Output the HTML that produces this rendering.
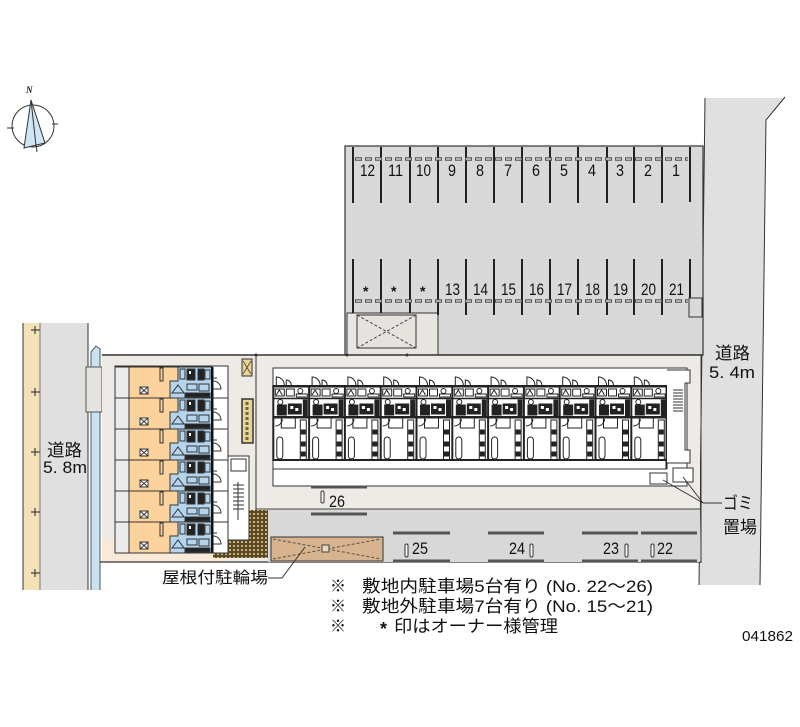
<!DOCTYPE html>
<html><head><meta charset="utf-8">
<style>
html,body{margin:0;padding:0;background:#fff;}
svg{display:block;}
text{font-family:"Liberation Sans","Noto Sans CJK JP",sans-serif;fill:#111;}
</style></head>
<body>
<svg width="800" height="727" viewBox="0 0 800 727" xmlns="http://www.w3.org/2000/svg">
<defs>
<pattern id="hatch" width="4" height="4" patternUnits="userSpaceOnUse"><rect width="4" height="4" fill="#5a4826"/><rect x="1" y="1" width="2" height="2" fill="#c9b27a"/></pattern>
<g id="ru" fill="none" stroke="#222" stroke-width="1">
 <rect x="-1" y="385" width="2" height="76" fill="#222" stroke="none"/>
 <path d="M3,385 V377 A8,8 0 0 1 11,385"/>
 <path d="M13,385 V380 A5,5 0 0 1 18,385"/>
 <rect x="0" y="385" width="36" height="2.5" fill="#222" stroke="none"/>
 <rect x="2" y="389" width="9" height="7"/>
 <path d="M3,395 l3,-5 l3,5"/>
 <rect x="13" y="389" width="8" height="7"/>
 <circle cx="27" cy="391" r="2.5"/>
 <rect x="23" y="394" width="11" height="3" fill="#fff"/>
 <line x1="0" y1="398.5" x2="36" y2="398.5" stroke-width="1.5"/>
 <circle cx="7" cy="402" r="2.5"/>
 <rect x="4" y="405" width="9" height="10" fill="#222"/>
 <rect x="15" y="404" width="13" height="10" fill="#222"/>
 <rect x="17" y="406" width="3" height="3" fill="#fff" stroke="none"/>
 <rect x="22" y="408" width="3" height="3" fill="#fff" stroke="none"/>
 <rect x="30" y="400" width="4" height="17" fill="#222"/>
 <rect x="0" y="416" width="36" height="2.5" fill="#222" stroke="none"/>
 <path d="M2,426 A7,7 0 0 0 9,419"/>
 <rect x="8" y="418" width="14" height="10"/>
 <rect x="3.5" y="437" width="6" height="22" rx="3"/>
 <rect x="27" y="420" width="6" height="40"/>
 <rect x="28" y="430" width="4" height="4" fill="#222"/>
 <rect x="28" y="442" width="4" height="4" fill="#222"/>
 <rect x="28" y="452" width="4" height="4" fill="#222"/>
 <rect x="0" y="459" width="36" height="2" fill="#222" stroke="none"/>
</g>
<g id="lu" stroke="#333" stroke-width="1">
 <rect x="115" y="0" width="14" height="31" fill="#ebebeb"/>
 <path d="M129,0 H178 V14 H170 V31 H129 Z" fill="#fcd39c"/>
 <path d="M178,0 H212 V31 H170 V14 H178 Z" fill="#b5d5ef"/>
 <rect x="160" y="1" width="3" height="13" fill="none"/>
 <rect x="140" y="20" width="8" height="7" fill="#fff"/>
 <path d="M140,20 l8,7 M148,20 l-8,7" fill="none"/>
 <rect x="180" y="2" width="5" height="10" fill="none"/>
 <rect x="187" y="2" width="8" height="11" fill="#222"/>
 <rect x="189" y="4" width="2" height="3" fill="#fff" stroke="none"/>
 <rect x="198" y="2" width="6" height="11" fill="#222"/>
 <rect x="205" y="3" width="5" height="9" fill="none"/>
 <path d="M172,26 l6,-8 l6,8 Z" fill="none"/>
 <rect x="187" y="17" width="10" height="6" fill="none"/>
 <rect x="199" y="17" width="10" height="7" fill="none"/>
 <rect x="185" y="26" width="25" height="4" fill="#222"/>
 <rect x="211" y="0" width="2.5" height="31" fill="#111" stroke="none"/>
 <path d="M213,22 h8 a8,8 0 0 0 -8,-8" fill="none"/>
 <path d="M213,11 h4" fill="none"/>
 <line x1="115" y1="31" x2="228" y2="31"/>
</g>
</defs>

<rect width="800" height="727" fill="#fff"/>

<!-- compass -->
<circle cx="33" cy="126" r="21" fill="none" stroke="#333" stroke-width="1"/>
<polygon points="31,100 24,148 45,143" fill="#cfe6f5" stroke="#333" stroke-width="1"/>
<line x1="31" y1="100" x2="36" y2="146" stroke="#333"/>
<line x1="7" y1="128" x2="14" y2="128" stroke="#333"/>
<line x1="52" y1="124" x2="58" y2="124" stroke="#333"/>
<line x1="36" y1="144" x2="37" y2="152" stroke="#333"/>
<text x="26" y="93" font-size="9" font-style="italic" font-weight="bold" style="font-family:'Liberation Serif',serif">N</text>

<!-- right road -->
<polygon points="705,98 785,98 766,120 760,585 699,585" fill="#e0e0e0"/>
<polyline points="705,98 699,585" fill="none" stroke="#333"/>
<polyline points="785,97 766,120 760,585" fill="none" stroke="#333"/>

<!-- top parking -->
<rect x="345" y="146" width="358" height="209" fill="#d9d9d9" stroke="#333" stroke-width="1.2"/>
<rect x="347" y="313" width="91" height="42" fill="#e9e6e2" stroke="#333"/>
<rect x="357" y="315" width="59" height="33" fill="#e6e3df" stroke="#333"/>
<path d="M357,315 L416,348 M416,315 L357,348" stroke="#444" stroke-dasharray="3,2"/>
<g stroke="#222" stroke-width="2">
<line x1="353" y1="147" x2="353" y2="203"/><line x1="381" y1="147" x2="381" y2="203"/><line x1="410" y1="147" x2="410" y2="203"/><line x1="438" y1="147" x2="438" y2="203"/><line x1="466" y1="147" x2="466" y2="203"/><line x1="494" y1="147" x2="494" y2="203"/><line x1="522" y1="147" x2="522" y2="203"/><line x1="550" y1="147" x2="550" y2="203"/><line x1="578" y1="147" x2="578" y2="203"/><line x1="607" y1="147" x2="607" y2="203"/><line x1="634" y1="147" x2="634" y2="203"/><line x1="662" y1="147" x2="662" y2="203"/><line x1="690" y1="147" x2="690" y2="202"/>
<line x1="353" y1="259" x2="353" y2="313"/><line x1="381" y1="259" x2="381" y2="313"/><line x1="410" y1="259" x2="410" y2="313"/><line x1="438" y1="259" x2="438" y2="315"/><line x1="466" y1="259" x2="466" y2="315"/><line x1="494" y1="259" x2="494" y2="315"/><line x1="522" y1="259" x2="522" y2="315"/><line x1="550" y1="259" x2="550" y2="315"/><line x1="578" y1="259" x2="578" y2="315"/><line x1="607" y1="259" x2="607" y2="315"/><line x1="634" y1="259" x2="634" y2="315"/><line x1="662" y1="259" x2="662" y2="315"/><line x1="690" y1="259" x2="690" y2="298"/>
</g>
<line x1="355" y1="159" x2="688" y2="159" stroke="#555" stroke-width="3.5" stroke-dasharray="7,3"/>
<line x1="356" y1="159" x2="688" y2="159" stroke="#e4e4e4" stroke-width="1.2" stroke-dasharray="5,5"/>
<line x1="355" y1="301" x2="688" y2="301" stroke="#555" stroke-width="3.5" stroke-dasharray="7,3"/>
<line x1="356" y1="301" x2="688" y2="301" stroke="#e4e4e4" stroke-width="1.2" stroke-dasharray="5,5"/>
<rect x="689" y="298" width="13" height="19" fill="none" stroke="#333"/>
<g font-size="17">
<text x="360" y="176" textLength="15" lengthAdjust="spacingAndGlyphs">12</text>
<text x="388" y="176" textLength="15" lengthAdjust="spacingAndGlyphs">11</text>
<text x="416" y="176" textLength="15" lengthAdjust="spacingAndGlyphs">10</text>
<text x="448" y="176" textLength="8" lengthAdjust="spacingAndGlyphs">9</text>
<text x="476" y="176" textLength="8" lengthAdjust="spacingAndGlyphs">8</text>
<text x="504" y="176" textLength="8" lengthAdjust="spacingAndGlyphs">7</text>
<text x="532" y="176" textLength="8" lengthAdjust="spacingAndGlyphs">6</text>
<text x="560" y="176" textLength="8" lengthAdjust="spacingAndGlyphs">5</text>
<text x="588" y="176" textLength="8" lengthAdjust="spacingAndGlyphs">4</text>
<text x="616" y="176" textLength="8" lengthAdjust="spacingAndGlyphs">3</text>
<text x="644" y="176" textLength="8" lengthAdjust="spacingAndGlyphs">2</text>
<text x="672" y="176" textLength="8" lengthAdjust="spacingAndGlyphs">1</text>
<text x="363" y="296" font-size="14" font-weight="bold">*</text>
<text x="391" y="296" font-size="14" font-weight="bold">*</text>
<text x="420" y="296" font-size="14" font-weight="bold">*</text>
<text x="445" y="295" textLength="15" lengthAdjust="spacingAndGlyphs">13</text>
<text x="473" y="295" textLength="15" lengthAdjust="spacingAndGlyphs">14</text>
<text x="501" y="295" textLength="15" lengthAdjust="spacingAndGlyphs">15</text>
<text x="529" y="295" textLength="15" lengthAdjust="spacingAndGlyphs">16</text>
<text x="557" y="295" textLength="15" lengthAdjust="spacingAndGlyphs">17</text>
<text x="585" y="295" textLength="15" lengthAdjust="spacingAndGlyphs">18</text>
<text x="613" y="295" textLength="15" lengthAdjust="spacingAndGlyphs">19</text>
<text x="641" y="295" textLength="15" lengthAdjust="spacingAndGlyphs">20</text>
<text x="669" y="295" textLength="15" lengthAdjust="spacingAndGlyphs">21</text>
</g>

<!-- left road -->
<rect x="23" y="323" width="17" height="267" fill="#f3e2b5"/>
<rect x="40" y="323" width="48" height="267" fill="#e0e0e0"/>
<line x1="23" y1="323" x2="23" y2="590" stroke="#333"/>
<line x1="40" y1="323" x2="40" y2="590" stroke="#777"/>
<line x1="88" y1="323" x2="88" y2="590" stroke="#333"/>
<g stroke="#444" stroke-width="1.2" fill="none">
<path d="M31,330 h9 M35,326 v8"/><path d="M31,392 h9 M35,388 v8"/><path d="M31,452 h9 M35,448 v8"/><path d="M31,512 h9 M35,508 v8"/><path d="M31,573 h9 M35,569 v8"/>
</g>
<rect x="91" y="352" width="9" height="238" fill="#c8e4f4"/>
<path d="M91,352 L96,346 L100,349 L100,352" fill="#c8e4f4" stroke="#555"/>
<line x1="91" y1="352" x2="91" y2="590" stroke="#555"/>
<line x1="100" y1="352" x2="100" y2="590" stroke="#555"/>
<rect x="86" y="367" width="16" height="45" fill="#e6e4e1" stroke="#555"/>

<!-- site -->
<rect x="102" y="355" width="598" height="207" fill="#eeebe6"/>
<rect x="102" y="540" width="126" height="22" fill="#f8e9d8"/>
<line x1="102" y1="355" x2="703" y2="355" stroke="#333" stroke-width="1.5"/>
<line x1="701" y1="355" x2="701" y2="563" stroke="#333"/>
<line x1="256" y1="355" x2="256" y2="510" stroke="#333"/>
<line x1="100" y1="562" x2="701" y2="562" stroke="#333" stroke-width="1.2"/>
<circle cx="256" cy="355" r="1.5" fill="#333"/><circle cx="347" cy="355" r="1.5" fill="#333"/><circle cx="407" cy="355" r="1.5" fill="#333"/>

<!-- lower parking strip -->
<rect x="268" y="509" width="432" height="53" fill="#d8d8d8"/>
<line x1="256" y1="509" x2="701" y2="509" stroke="#444"/>
<rect x="248" y="510" width="20" height="48" fill="url(#hatch)"/>
<rect x="213" y="540" width="55" height="18" fill="url(#hatch)"/>

<!-- left building -->
<rect x="115" y="366" width="113" height="187" fill="#fff" stroke="#333"/>
<use href="#lu" transform="translate(0,367)"/>
<use href="#lu" transform="translate(0,398)"/>
<use href="#lu" transform="translate(0,429)"/>
<use href="#lu" transform="translate(0,460)"/>
<use href="#lu" transform="translate(0,491)"/>
<use href="#lu" transform="translate(0,522)"/>
<rect x="228" y="456" width="21" height="84" fill="#fff" stroke="#333"/>
<rect x="231" y="459" width="15" height="12" fill="none" stroke="#333"/>
<g stroke="#333"><line x1="233" y1="485" x2="244" y2="485"/><line x1="233" y1="489" x2="244" y2="489"/><line x1="233" y1="493" x2="244" y2="493"/><line x1="233" y1="497" x2="244" y2="497"/><line x1="233" y1="501" x2="244" y2="501"/><line x1="233" y1="505" x2="244" y2="505"/><line x1="233" y1="509" x2="244" y2="509"/><line x1="238" y1="482" x2="238" y2="520"/></g>
<rect x="242" y="359" width="10" height="17" fill="#e9d590" stroke="#333"/>
<path d="M243,361 l8,13 M251,361 l-8,13" stroke="#555" fill="none"/>
<rect x="242" y="399" width="11" height="44" fill="#e9d590" stroke="#333" stroke-width="1.5"/>
<line x1="247" y1="402" x2="247" y2="440" stroke="#665" stroke-dasharray="3,2" stroke-width="3"/>

<!-- right building -->
<rect x="273" y="368" width="414" height="118" fill="#fff" stroke="#333"/>
<use href="#ru" x="273.3"/><use href="#ru" x="309.1"/><use href="#ru" x="344.9"/><use href="#ru" x="380.7"/><use href="#ru" x="416.5"/><use href="#ru" x="452.3"/><use href="#ru" x="488.1"/><use href="#ru" x="523.9"/><use href="#ru" x="559.7"/><use href="#ru" x="595.5"/><use href="#ru" x="631.3"/>
<line x1="666.5" y1="385" x2="666.5" y2="469" stroke="#222" stroke-width="2"/>
<line x1="273" y1="469" x2="667" y2="469" stroke="#333"/>
<path d="M667,370 H690 V383 H685 V450 H690 V463 H667" fill="#fff" stroke="#333"/>
<g stroke="#333"><line x1="673" y1="390" x2="683" y2="390"/><line x1="673" y1="393" x2="683" y2="393"/><line x1="673" y1="396" x2="683" y2="396"/><line x1="673" y1="399" x2="683" y2="399"/><line x1="673" y1="402" x2="683" y2="402"/><line x1="673" y1="405" x2="683" y2="405"/><line x1="673" y1="408" x2="683" y2="408"/><line x1="673" y1="411" x2="683" y2="411"/></g>
<rect x="650" y="473" width="17" height="11" fill="#fff" stroke="#333"/>
<rect x="673" y="468" width="20" height="14" fill="#fff" stroke="#333"/>
<path d="M663,480 L703,503 M683,477 L703,503 M703,503 H722" stroke="#333" fill="none"/>

<!-- parking marks -->
<g stroke="#555" stroke-width="3">
<line x1="311" y1="487" x2="367" y2="487"/><line x1="311" y1="514" x2="367" y2="514"/>
<line x1="393" y1="533" x2="450" y2="533"/><line x1="488" y1="533" x2="544" y2="533"/><line x1="582" y1="533" x2="638" y2="533"/><line x1="641" y1="533" x2="697" y2="533"/>
<line x1="393" y1="561" x2="450" y2="561"/><line x1="488" y1="561" x2="544" y2="561"/><line x1="582" y1="561" x2="638" y2="561"/><line x1="641" y1="561" x2="697" y2="561"/>
</g>
<g fill="#fff" stroke="#333"><rect x="321" y="491" width="3" height="12" rx="1.5"/><rect x="405" y="544" width="3" height="13" rx="1.5"/><rect x="530" y="544" width="3" height="13" rx="1.5"/><rect x="625" y="544" width="3" height="13" rx="1.5"/><rect x="651" y="544" width="3" height="13" rx="1.5"/></g>
<g font-size="17">
<text x="329" y="507" textLength="16" lengthAdjust="spacingAndGlyphs">26</text>
<text x="412" y="554" textLength="16" lengthAdjust="spacingAndGlyphs">25</text>
<text x="509" y="554" textLength="16" lengthAdjust="spacingAndGlyphs">24</text>
<text x="603" y="554" textLength="16" lengthAdjust="spacingAndGlyphs">23</text>
<text x="657" y="554" textLength="16" lengthAdjust="spacingAndGlyphs">22</text>
</g>

<!-- bike shelter -->
<rect x="271" y="537" width="112" height="24" fill="#d7b38f" stroke="#333"/>
<path d="M273,539 L381,559 M273,559 L381,539" stroke="#554" stroke-dasharray="3,2" fill="none"/>
<rect x="322" y="545" width="7" height="7" fill="#e8d8c0" stroke="#444"/>
<path d="M268,578 H282 L305,547" stroke="#333" fill="none"/>

<!-- labels -->
<text x="47" y="456" font-size="17" textLength="35" lengthAdjust="spacingAndGlyphs">道路</text>
<text x="43" y="473" font-size="17" textLength="44" lengthAdjust="spacingAndGlyphs">5. 8m</text>
<text x="715" y="359" font-size="17" textLength="35" lengthAdjust="spacingAndGlyphs">道路</text>
<text x="709" y="378" font-size="17" textLength="46" lengthAdjust="spacingAndGlyphs">5. 4m</text>
<text x="723" y="509" font-size="17" textLength="30" lengthAdjust="spacingAndGlyphs">ゴミ</text>
<text x="723" y="533" font-size="17" textLength="34" lengthAdjust="spacingAndGlyphs">置場</text>
<text x="162" y="583" font-size="16" textLength="106" lengthAdjust="spacingAndGlyphs">屋根付駐輪場</text>

<text x="330" y="592" font-size="17" textLength="16" lengthAdjust="spacingAndGlyphs">※</text>
<text x="362" y="592" font-size="17" textLength="291" lengthAdjust="spacingAndGlyphs">敷地内駐車場5台有り (No. 22～26)</text>
<text x="330" y="612" font-size="17" textLength="16" lengthAdjust="spacingAndGlyphs">※</text>
<text x="362" y="612" font-size="17" textLength="291" lengthAdjust="spacingAndGlyphs">敷地外駐車場7台有り (No. 15～21)</text>
<text x="330" y="632" font-size="17" textLength="16" lengthAdjust="spacingAndGlyphs">※</text>
<text x="380" y="635" font-size="18" font-weight="bold">*</text>
<text x="394" y="632" font-size="17" textLength="164" lengthAdjust="spacingAndGlyphs">印はオーナー様管理</text>

<text x="742" y="641" font-size="15" textLength="51" lengthAdjust="spacingAndGlyphs">041862</text>
</svg>
</body></html>
